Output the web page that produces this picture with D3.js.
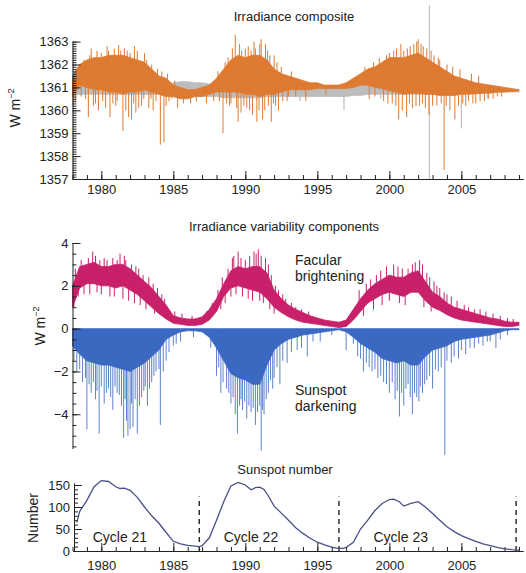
<!DOCTYPE html>
<html>
<head>
<meta charset="utf-8">
<script src="https://cdn.jsdelivr.net/npm/d3@7"></script>
<style>
body { margin: 0; background: #fff; }
text { font-family: "Liberation Sans", Arial, Helvetica, sans-serif; fill: #222; }
.axis path, .axis line { stroke: #222; stroke-width: 1; }
.axis text { font-size: 13px; }
</style>
</head>
<body>
<script>
// sample times (half years) for the envelopes of the daily series
var years = [1978.0, 1978.5, 1979.0, 1979.5, 1980.0, 1980.5, 1981.0, 1981.5, 1982.0, 1982.5,
    1983.0, 1983.5, 1984.0, 1984.5, 1985.0, 1985.5, 1986.0, 1986.5, 1987.0, 1987.5,
    1988.0, 1988.5, 1989.0, 1989.5, 1990.0, 1990.5, 1991.0, 1991.5, 1992.0, 1992.5,
    1993.0, 1993.5, 1994.0, 1994.5, 1995.0, 1995.5, 1996.0, 1996.5, 1997.0, 1997.5,
    1998.0, 1998.5, 1999.0, 1999.5, 2000.0, 2000.5, 2001.0, 2001.5, 2002.0, 2002.5,
    2003.0, 2003.5, 2004.0, 2004.5, 2005.0, 2005.5, 2006.0, 2006.5, 2007.0, 2007.5,
    2008.0, 2008.5, 2009.0];

// irradiance composite (orange), upper and lower edge of the band
var tsiHigh = [1361.5, 1362.0, 1362.2, 1362.3, 1362.3, 1362.4, 1362.4, 1362.4, 1362.3, 1362.2,
    1362.1, 1361.8, 1361.5, 1361.4, 1361.1, 1361.0, 1360.9, 1360.9, 1361.0, 1361.1,
    1361.4, 1361.8, 1362.2, 1362.4, 1362.3, 1362.4, 1362.4, 1362.2, 1361.8, 1361.6,
    1361.5, 1361.4, 1361.3, 1361.2, 1361.2, 1361.1, 1361.1, 1361.1, 1361.2, 1361.4,
    1361.6, 1361.8, 1361.9, 1362.1, 1362.3, 1362.3, 1362.3, 1362.4, 1362.5, 1362.3,
    1362.1, 1361.9, 1361.7, 1361.5, 1361.4, 1361.3, 1361.2, 1361.15, 1361.1, 1361.05,
    1361.0, 1360.95, 1360.9];
var tsiLow = [1360.6, 1361.1, 1361.0, 1360.9, 1360.9, 1360.8, 1360.8, 1360.7, 1360.8, 1360.8,
    1360.9, 1360.8, 1360.7, 1360.6, 1360.6, 1360.5, 1360.5, 1360.6, 1360.6, 1360.7,
    1360.8, 1360.8, 1360.8, 1360.8, 1360.7, 1360.7, 1360.6, 1360.7, 1360.7, 1360.8,
    1360.9, 1360.9, 1360.9, 1360.9, 1360.95, 1360.95, 1360.95, 1360.95, 1360.95, 1361.0,
    1361.1, 1361.1, 1361.0, 1360.95, 1360.85, 1360.8, 1360.7, 1360.75, 1360.75, 1360.7,
    1360.7, 1360.65, 1360.65, 1360.65, 1360.7, 1360.7, 1360.72, 1360.75, 1360.75, 1360.8,
    1360.8, 1360.82, 1360.85];
// single days that stick out of the band [year, W m-2]
var tsiSpikes = [[1978.05, 1360.2], [1978.6, 1360.6], [1979.1, 1359.7], [1979.3, 1362.7], [1979.6, 1360.3],
    [1980.3, 1360.1], [1980.4, 1362.8], [1980.6, 1359.7], [1981.0, 1360.2], [1981.2, 1362.85],
    [1981.5, 1359.1], [1981.6, 1362.7], [1981.9, 1359.7], [1982.1, 1359.6], [1982.3, 1362.8],
    [1982.4, 1359.9], [1982.8, 1360.2], [1983.0, 1362.5], [1983.3, 1360.1], [1983.6, 1360.0],
    [1984.1, 1358.5], [1984.35, 1358.6], [1984.7, 1360.4], [1985.3, 1360.1], [1986.2, 1360.3],
    [1987.8, 1360.4], [1988.45, 1359.0], [1988.9, 1360.2], [1989.3, 1363.3], [1989.5, 1359.5],
    [1989.6, 1362.9], [1989.9, 1360.2], [1990.2, 1362.8], [1990.3, 1360.0], [1990.6, 1363.0],
    [1990.8, 1359.5], [1991.1, 1363.1], [1991.2, 1359.6], [1991.4, 1362.9], [1991.8, 1359.5],
    [1992.0, 1362.4], [1992.3, 1360.0], [1992.9, 1360.4], [1994.2, 1360.4], [1998.6, 1360.5],
    [1999.6, 1360.4], [2000.2, 1360.3], [2000.3, 1362.6], [2000.65, 1359.6], [2000.8, 1362.9],
    [2001.2, 1359.7], [2001.25, 1362.7], [2001.6, 1360.1], [2001.7, 1362.9], [2002.0, 1363.1],
    [2002.3, 1360.3], [2002.35, 1362.8], [2002.75, 1359.8], [2002.9, 1362.6], [2003.3, 1360.2],
    [2003.5, 1362.2], [2003.8, 1357.4], [2004.2, 1360.0], [2004.55, 1359.6], [2005.3, 1360.2],
    [2006.0, 1360.3], [2006.6, 1360.4],
    [1978.2, 1360.4], [1978.4, 1361.9], [1978.8, 1362.2], [1978.9, 1360.5], [1979.2, 1362.4],
    [1979.45, 1360.2], [1979.7, 1362.6], [1979.8, 1360.0], [1980.0, 1362.5], [1980.1, 1360.4],
    [1980.5, 1362.6], [1980.8, 1360.3], [1980.9, 1362.7], [1981.1, 1360.4], [1981.35, 1362.6],
    [1981.7, 1360.0], [1981.8, 1362.6], [1982.0, 1362.5], [1982.25, 1360.3], [1982.5, 1362.6],
    [1982.6, 1360.1], [1982.95, 1360.5], [1983.15, 1362.2], [1983.45, 1360.5], [1983.5, 1362.0],
    [1983.8, 1360.4], [1983.9, 1361.8], [1984.2, 1361.7], [1984.5, 1360.2], [1984.6, 1361.6],
    [1984.9, 1360.5], [1985.1, 1361.3], [1985.7, 1360.3], [1986.6, 1360.4], [1987.3, 1360.3],
    [1988.1, 1361.7], [1988.2, 1360.4], [1988.6, 1362.1], [1988.7, 1360.3], [1988.8, 1362.3],
    [1989.0, 1360.3], [1989.1, 1362.7], [1989.4, 1360.1], [1989.75, 1362.6], [1989.7, 1359.9],
    [1990.0, 1362.7], [1990.1, 1360.1], [1990.4, 1362.6], [1990.5, 1359.8], [1990.7, 1362.7],
    [1990.95, 1360.0], [1991.0, 1362.9], [1991.35, 1360.0], [1991.55, 1362.6], [1991.6, 1360.2],
    [1991.7, 1362.4], [1991.95, 1360.3], [1992.1, 1360.2], [1992.2, 1362.1], [1992.5, 1361.9],
    [1992.6, 1360.4], [1993.0, 1360.6], [1993.2, 1361.7], [1993.5, 1360.6], [1995.6, 1360.7],
    [1998.3, 1361.9], [1998.9, 1362.1], [1999.0, 1360.6], [1999.3, 1362.3], [1999.8, 1362.4],
    [1999.9, 1360.3], [2000.0, 1362.5], [2000.45, 1360.2], [2000.5, 1362.7], [2000.9, 1360.0],
    [2001.0, 1362.6], [2001.4, 1360.3], [2001.45, 1362.8], [2001.85, 1360.2], [2001.9, 1363.0],
    [2002.1, 1360.2], [2002.2, 1362.9], [2002.5, 1360.1], [2002.6, 1362.7], [2003.0, 1360.2],
    [2003.1, 1362.4], [2003.4, 1362.3], [2003.6, 1360.3], [2003.95, 1360.2], [2004.0, 1362.0],
    [2004.4, 1361.9], [2004.8, 1360.2], [2004.9, 1361.8], [2005.1, 1360.3], [2005.5, 1360.4],
    [2005.7, 1361.6], [2005.8, 1360.3], [2006.2, 1361.5], [2006.3, 1360.4], [2006.9, 1360.5],
    [2007.2, 1360.5], [2007.5, 1360.6], [2007.8, 1360.6]];

// second composite (grey) behind the orange one
var altHigh = [1361.1, 1361.1, 1361.1, 1361.1, 1361.1, 1361.1, 1361.1, 1361.1, 1361.1, 1361.1,
    1361.1, 1361.1, 1361.1, 1361.15, 1361.2, 1361.25, 1361.25, 1361.2, 1361.2, 1361.15,
    1361.1, 1361.1, 1361.1, 1361.1, 1361.1, 1361.1, 1361.1, 1361.1, 1361.1, 1361.1,
    1361.1, 1361.1, 1361.05, 1361.05, 1361.05, 1361.05, 1361.05, 1361.1, 1361.1, 1361.1,
    1361.1, 1361.1, 1361.1, 1361.1, 1361.1, 1361.1, 1361.1, 1361.1, 1361.1, 1361.1,
    1361.1, 1361.1, 1361.1, 1361.05, 1361.05, 1361.0, 1361.0, 1360.95, 1360.95, 1360.9,
    1360.9, 1360.9, 1360.9];
var altLow = [1360.7, 1360.7, 1360.7, 1360.7, 1360.7, 1360.7, 1360.7, 1360.7, 1360.7, 1360.7,
    1360.7, 1360.7, 1360.7, 1360.65, 1360.6, 1360.55, 1360.55, 1360.6, 1360.6, 1360.6,
    1360.6, 1360.55, 1360.55, 1360.55, 1360.55, 1360.55, 1360.55, 1360.6, 1360.6, 1360.6,
    1360.6, 1360.6, 1360.6, 1360.6, 1360.6, 1360.6, 1360.6, 1360.6, 1360.6, 1360.65,
    1360.65, 1360.7, 1360.7, 1360.7, 1360.7, 1360.7, 1360.7, 1360.7, 1360.7, 1360.7,
    1360.7, 1360.7, 1360.7, 1360.72, 1360.75, 1360.75, 1360.75, 1360.75, 1360.78, 1360.78,
    1360.8, 1360.8, 1360.8];
var altSpikes = [[1996.85, 1360.0], [2005.0, 1359.2], [1993.8, 1360.4], [1999.4, 1360.5], [2006.8, 1360.5]];
var altGap = [2002.78, 1357.0, 1364.6];

// facular brightening (magenta)
var facHigh = [2.0, 2.9, 3.0, 3.1, 2.9, 2.9, 3.0, 3.0, 2.8, 2.5,
    2.2, 1.9, 1.5, 1.1, 0.6, 0.5, 0.45, 0.45, 0.55, 0.9,
    1.4, 2.1, 2.7, 2.9, 2.8, 2.9, 2.9, 2.6, 1.8, 1.4,
    1.1, 0.9, 0.75, 0.6, 0.5, 0.4, 0.35, 0.3, 0.4, 0.9,
    1.4, 1.8, 2.1, 2.3, 2.5, 2.4, 2.4, 2.6, 2.7, 2.2,
    1.7, 1.5, 1.2, 1.0, 0.9, 0.8, 0.7, 0.6, 0.5, 0.45,
    0.35, 0.3, 0.3];
var facLow = [1.0, 1.9, 2.1, 2.1, 2.0, 2.0, 1.9, 2.0, 1.8, 1.6,
    1.3, 1.0, 0.7, 0.45, 0.25, 0.2, 0.15, 0.15, 0.2, 0.4,
    0.8, 1.5, 1.9, 2.0, 1.9, 1.8, 1.7, 1.4, 1.0, 0.75,
    0.55, 0.4, 0.3, 0.25, 0.2, 0.15, 0.1, 0.05, 0.1, 0.4,
    0.8, 1.2, 1.4, 1.6, 1.7, 1.6, 1.5, 1.7, 1.7, 1.3,
    1.0, 0.85, 0.65, 0.5, 0.4, 0.35, 0.3, 0.25, 0.2, 0.15,
    0.1, 0.1, 0.15];
var facSpikes = [[1978.1, 1.0], [1979.4, 3.6], [1980.2, 3.3], [1981.3, 3.5], [1981.7, 3.2], [1982.4, 2.9],
    [1989.2, 3.4], [1989.5, 3.6], [1990.6, 3.6], [1990.9, 3.7], [1991.4, 3.3], [2000.3, 3.0],
    [2001.8, 3.1], [2002.1, 3.2], [2003.5, 1.9], [2004.3, 1.5], [2005.2, 1.1],
    [1978.2, 2.8], [1978.4, 1.5], [1978.6, 3.2], [1978.8, 1.6], [1979.1, 3.3], [1979.2, 1.6],
    [1979.6, 3.4], [1979.7, 1.7], [1979.9, 3.2], [1980.0, 1.6], [1980.4, 3.2], [1980.6, 1.5],
    [1980.8, 3.3], [1980.9, 1.5], [1981.1, 3.2], [1981.5, 1.4], [1981.6, 3.4], [1981.9, 1.3],
    [1982.1, 3.0], [1982.3, 1.2], [1982.6, 2.8], [1982.7, 1.1], [1982.9, 2.5], [1983.1, 0.9],
    [1983.3, 2.4], [1983.6, 2.1], [1983.7, 0.7], [1983.9, 1.9], [1984.2, 1.6], [1984.4, 1.4],
    [1984.6, 0.9], [1985.1, 0.8], [1985.6, 0.7], [1986.3, 0.6], [1987.3, 0.8], [1987.7, 1.2],
    [1988.1, 1.8], [1988.3, 0.9], [1988.4, 2.4], [1988.6, 1.2], [1988.8, 2.8], [1989.0, 1.5],
    [1989.1, 3.3], [1989.35, 1.6], [1989.7, 3.3], [1989.8, 1.5], [1990.0, 3.2], [1990.2, 1.4],
    [1990.3, 3.4], [1990.5, 1.3], [1990.75, 3.5], [1991.0, 1.3], [1991.1, 3.4], [1991.25, 1.2],
    [1991.6, 3.0], [1991.7, 0.9], [1991.8, 2.5], [1992.0, 0.7], [1992.1, 2.0], [1992.3, 1.8],
    [1992.6, 1.6], [1992.8, 1.4], [1993.2, 1.2], [1993.5, 1.0], [1993.9, 0.9], [1994.4, 0.8],
    [1997.9, 1.8], [1998.2, 0.6], [1998.4, 2.1], [1998.7, 2.3], [1998.9, 0.9], [1999.1, 2.5],
    [1999.4, 2.7], [1999.5, 1.1], [1999.8, 2.9], [2000.0, 1.3], [2000.6, 2.9], [2000.7, 1.2],
    [2000.9, 2.8], [2001.1, 1.1], [2001.3, 2.8], [2001.6, 3.0], [2002.3, 3.0], [2002.4, 1.0],
    [2002.6, 2.6], [2002.8, 2.4], [2002.9, 0.8], [2003.1, 2.2], [2003.3, 2.0], [2003.8, 1.7],
    [2004.0, 1.6], [2004.7, 1.3], [2005.5, 1.0], [2005.9, 0.9], [2006.3, 0.9], [2006.7, 0.8],
    [2007.2, 0.7], [2007.7, 0.6], [2008.2, 0.5], [2008.6, 0.45]];

// sunspot darkening (blue), lower edge of the dense band, top edge is 0
var spotLow = [-0.8, -1.2, -1.5, -1.6, -1.7, -1.7, -1.8, -1.9, -2.0, -1.8,
    -1.6, -1.3, -1.0, -0.5, -0.3, -0.15, -0.1, -0.1, -0.15, -0.4,
    -0.9, -1.5, -2.1, -2.3, -2.4, -2.6, -2.6, -1.7, -1.0, -0.7,
    -0.5, -0.4, -0.3, -0.25, -0.2, -0.15, -0.1, -0.05, -0.15, -0.4,
    -0.7, -0.9, -1.1, -1.4, -1.5, -1.6, -1.5, -1.7, -1.7, -1.3,
    -1.0, -0.9, -0.8, -0.6, -0.5, -0.45, -0.4, -0.35, -0.3, -0.2,
    -0.1, -0.05, -0.05];
var spotSpikes = [[1978.3, -2.0], [1978.7, -2.5], [1979.0, -4.7], [1979.3, -3.0], [1979.6, -3.3],
    [1979.85, -4.9], [1980.2, -3.5], [1980.5, -2.8], [1980.8, -3.8], [1981.1, -3.0],
    [1981.55, -5.1], [1981.75, -4.3], [1981.85, -5.0], [1982.0, -4.7], [1982.2, -4.6],
    [1982.5, -4.9], [1982.8, -3.2], [1983.2, -3.6], [1983.5, -2.5], [1984.1, -4.5],
    [1984.5, -1.5], [1985.5, -0.6], [1986.4, -0.4], [1987.6, -0.9], [1988.0, -2.2],
    [1988.3, -3.0], [1988.7, -2.8], [1989.0, -3.5], [1989.3, -4.0], [1989.45, -4.9],
    [1989.8, -3.8], [1990.1, -4.2], [1990.4, -3.9], [1990.7, -4.5], [1991.1, -5.7],
    [1991.3, -4.0], [1991.6, -3.0], [1992.0, -2.3], [1992.4, -2.6], [1992.9, -1.6],
    [1993.6, -1.0], [1994.3, -1.3], [1995.2, -0.6], [1997.0, -1.0], [1997.8, -1.3],
    [1998.2, -2.0], [1998.6, -1.8], [1999.2, -2.3], [1999.6, -2.5], [2000.0, -3.0],
    [2000.4, -3.3], [2000.7, -4.1], [2001.0, -3.6], [2001.3, -2.6], [2001.6, -4.0],
    [2001.9, -3.2], [2002.3, -3.0], [2002.6, -2.4], [2003.0, -2.8], [2003.4, -2.0],
    [2003.85, -5.9], [2004.3, -1.6], [2004.8, -1.4], [2005.3, -1.2], [2005.9, -0.9],
    [2006.5, -0.8], [2007.0, -0.6], [2007.4, -0.9],
    [1978.1, -1.5], [1978.5, -1.9], [1978.9, -2.3], [1979.15, -2.6], [1979.45, -2.5],
    [1979.7, -2.9], [1980.0, -2.7], [1980.35, -3.0], [1980.65, -3.2], [1980.95, -2.7],
    [1981.25, -3.1], [1981.4, -3.6], [1981.65, -3.3], [1982.1, -3.5], [1982.35, -3.3],
    [1982.65, -3.6], [1982.95, -2.9], [1983.05, -2.7], [1983.35, -2.8], [1983.65, -2.2],
    [1983.8, -2.0], [1984.0, -1.9], [1984.3, -2.0], [1984.7, -1.1], [1985.0, -0.8],
    [1985.2, -0.7], [1988.15, -1.8], [1988.45, -2.5], [1988.85, -3.0], [1989.15, -3.2],
    [1989.6, -3.6], [1989.7, -3.3], [1989.95, -3.4], [1990.25, -3.6], [1990.55, -3.7],
    [1990.85, -3.9], [1991.0, -3.6], [1991.2, -3.8], [1991.45, -3.3], [1991.75, -2.4],
    [1991.9, -2.8], [1992.2, -1.8], [1992.6, -1.5], [1993.2, -1.1], [1993.9, -0.9],
    [1994.7, -0.6], [1996.0, -0.3], [1997.5, -0.7], [1998.0, -1.4], [1998.4, -1.6],
    [1998.8, -2.0], [1999.0, -1.9], [1999.4, -2.2], [1999.8, -2.6], [2000.2, -2.5],
    [2000.55, -2.9], [2000.85, -3.0], [2001.15, -2.8], [2001.45, -3.2], [2001.75, -3.0],
    [2002.05, -3.4], [2002.15, -2.7], [2002.45, -2.6], [2002.8, -2.2], [2003.2, -1.9],
    [2003.6, -1.8], [2004.0, -1.5], [2004.5, -1.3], [2005.0, -1.0], [2005.6, -0.9],
    [2006.2, -0.7], [2006.8, -0.6], [2007.7, -0.5], [2008.2, -0.3]];

// smoothed sunspot number
var ssnYears = [1978.3, 1978.5, 1979.0, 1979.5, 1980.0, 1980.5, 1981.0, 1981.3, 1981.6, 1982.0,
    1982.5, 1983.0, 1983.5, 1984.0, 1984.5, 1985.0, 1985.5, 1986.0, 1986.5, 1986.8,
    1987.0, 1987.5, 1988.0, 1988.5, 1989.0, 1989.5, 1990.0, 1990.4, 1990.7, 1991.0,
    1991.3, 1991.6, 1992.0, 1992.5, 1993.0, 1993.5, 1994.0, 1994.5, 1995.0, 1995.5,
    1996.0, 1996.4, 1996.8, 1997.0, 1997.5, 1998.0, 1998.5, 1999.0, 1999.5, 2000.0,
    2000.3, 2000.7, 2001.0, 2001.5, 2002.0, 2002.5, 2003.0, 2003.5, 2004.0, 2004.5,
    2005.0, 2005.5, 2006.0, 2006.5, 2007.0, 2007.5, 2008.0, 2008.5, 2008.9, 2009.0];
var ssnValues = [65, 90, 115, 146, 160, 158, 146, 142, 143, 138,
    122, 100, 80, 63, 42, 22, 16, 13, 11, 10,
    12, 30, 70, 112, 148, 156, 150, 139, 144, 145,
    140, 125, 102, 86, 70, 53, 40, 29, 20, 14,
    9, 6, 6, 8, 20, 50, 70, 92, 108, 117,
    118, 112, 102, 108, 112, 100, 85, 70, 55, 44,
    35, 28, 22, 16, 12, 8, 5, 3, 2, 2];
var cycleStarts = [1986.8, 1996.5, 2008.8];
var cycleNames = ["Cycle 21", "Cycle 22", "Cycle 23"];
var cycleLabelYears = [1979.4, 1988.5, 1998.9];

var xTickYears = [1980, 1985, 1990, 1995, 2000, 2005];

var svg = d3.select("body").append("svg")
    .attr("width", 526)
    .attr("height", 573);

var x = d3.scaleLinear().domain([1978, 2009.3]).range([72.5, 523.3]);
var yTop = d3.scaleLinear().domain([1357, 1363]).range([179, 41.6]);
var yMid = d3.scaleLinear().domain([-5.6, 4]).range([448.5, 243]);
var yBot = d3.scaleLinear().domain([0, 155]).range([551, 482.8]);

// value of an envelope at time t (only used to anchor spikes on the band)
function interp(xs, ys, t) {
    var i = Math.max(1, Math.min(xs.length - 1, d3.bisect(xs, t)));
    var f = (t - xs[i - 1]) / (xs[i] - xs[i - 1]);
    return ys[i - 1] + f * (ys[i] - ys[i - 1]);
}

function band(g, hi, lo, y, color) {
    var rows = years.map(function (t, i) { return { t: t, hi: hi ? hi[i] : 0, lo: lo[i] }; });
    g.append("path")
        .datum(rows)
        .attr("fill", color)
        .attr("stroke", color)
        .attr("stroke-width", 0.8)
        .attr("d", d3.area()
            .x(function (d) { return x(d.t); })
            .y0(function (d) { return y(d.lo); })
            .y1(function (d) { return y(d.hi); }));
}

function spikes(g, list, hi, lo, y, color, w) {
    g.append("g").selectAll("line")
        .data(list)
        .enter().append("line")
        .attr("x1", function (d) { return x(d[0]); })
        .attr("x2", function (d) { return x(d[0]); })
        .attr("y1", function (d) {
            var a = hi ? interp(years, hi, d[0]) : 0;
            var b = interp(years, lo, d[0]);
            return y((a + b) / 2);
        })
        .attr("y2", function (d) { return y(d[1]); })
        .attr("stroke", color)
        .attr("stroke-width", w);
}

function xAxis(yPos, pad) {
    svg.append("g")
        .attr("class", "axis")
        .attr("transform", "translate(0," + yPos + ")")
        .call(d3.axisBottom(x).tickValues(d3.range(1978, 2010)).tickSize(-4).tickSizeOuter(0).tickFormat(""));
    svg.append("g")
        .attr("class", "axis")
        .attr("transform", "translate(0," + yPos + ")")
        .call(d3.axisBottom(x).tickValues(xTickYears).tickSize(-8).tickPadding(pad).tickFormat(d3.format("d")))
        .select(".domain").remove();
}

function yAxis(xPos, y, major, minor, fmt) {
    svg.append("g")
        .attr("class", "axis")
        .attr("transform", "translate(" + xPos + ",0)")
        .call(d3.axisLeft(y).tickValues(minor).tickSize(-4).tickSizeOuter(0).tickFormat(""));
    svg.append("g")
        .attr("class", "axis")
        .attr("transform", "translate(" + xPos + ",0)")
        .call(d3.axisLeft(y).tickValues(major).tickSize(-8).tickPadding(4).tickFormat(fmt))
        .select(".domain").remove();
}

function title(txt, cx, by) {
    svg.append("text").attr("x", cx).attr("y", by)
        .attr("text-anchor", "middle").attr("font-size", 13).attr("fill", "#333").text(txt);
}

function unitLabel(tx, ty) {
    var t = svg.append("text")
        .attr("transform", "translate(" + tx + "," + ty + ") rotate(-90)")
        .attr("text-anchor", "middle")
        .attr("font-size", 14);
    t.append("tspan").text("W m");
    t.append("tspan").attr("dy", -6).attr("font-size", 9).text("\u22122");
}

// ---- top panel: irradiance composite
var topPanel = svg.append("g");
band(topPanel, altHigh, altLow, yTop, "#bdbdbd");
spikes(topPanel, altSpikes, altHigh, altLow, yTop, "#bdbdbd", 1.2);
topPanel.append("line")
    .attr("x1", x(altGap[0])).attr("x2", x(altGap[0]))
    .attr("y1", yTop(altGap[1])).attr("y2", yTop(altGap[2]))
    .attr("stroke", "#c4c4c4").attr("stroke-width", 1.2);
band(topPanel, tsiHigh, tsiLow, yTop, "#de7a31");
spikes(topPanel, tsiSpikes, tsiHigh, tsiLow, yTop, "#de7a31", 1);

xAxis(179, 6);
yAxis(72.5, yTop, d3.range(1357, 1364), d3.range(1357, 1363.01, 0.1), d3.format("d"));
title("Irradiance composite", 294, 21);
unitLabel(20, 108);

// ---- middle panel: variability components
var midPanel = svg.append("g");
band(midPanel, facHigh, facLow, yMid, "#c8216a");
spikes(midPanel, facSpikes, facHigh, facLow, yMid, "#c8216a", 1);
spikes(midPanel, spotSpikes, null, spotLow, yMid, "#4a74c6", 0.9);
band(midPanel, null, spotLow, yMid, "#3b68c0");

yAxis(72.5, yMid, [-4, -2, 0, 2, 4], d3.range(-5.5, 4.01, 0.5), d3.format("d"));
title("Irradiance variability components", 284, 231);
unitLabel(45, 326);

svg.append("text").attr("x", 295).attr("y", 265).attr("font-size", 14).text("Facular");
svg.append("text").attr("x", 295).attr("y", 281).attr("font-size", 14).text("brightening");
svg.append("text").attr("x", 295).attr("y", 395).attr("font-size", 14).text("Sunspot");
svg.append("text").attr("x", 295).attr("y", 411).attr("font-size", 14).text("darkening");

// ---- bottom panel: sunspot number
svg.append("g").selectAll("line")
    .data(cycleStarts)
    .enter().append("line")
    .attr("x1", function (d) { return x(d); })
    .attr("x2", function (d) { return x(d); })
    .attr("y1", yBot(0))
    .attr("y2", yBot(124))
    .attr("stroke", "#111")
    .attr("stroke-width", 1.3)
    .attr("stroke-dasharray", "5,4");

svg.append("path")
    .datum(ssnYears.map(function (t, i) { return [t, ssnValues[i]]; }))
    .attr("fill", "none")
    .attr("stroke", "#4a4f88")
    .attr("stroke-width", 1.3)
    .attr("d", d3.line()
        .x(function (d) { return x(d[0]); })
        .y(function (d) { return yBot(d[1]); }));

svg.append("g").selectAll("text")
    .data(cycleNames)
    .enter().append("text")
    .attr("x", function (d, i) { return x(cycleLabelYears[i]); })
    .attr("y", 542)
    .attr("font-size", 14)
    .text(function (d) { return d; });

xAxis(551, 10);
yAxis(74, yBot, [0, 50, 100, 150], d3.range(0, 151, 10), d3.format("d"));
title("Sunspot number", 285, 474);
svg.append("text")
    .attr("transform", "translate(38,518) rotate(-90)")
    .attr("text-anchor", "middle")
    .attr("font-size", 14)
    .text("Number");
</script>
</body>
</html>
